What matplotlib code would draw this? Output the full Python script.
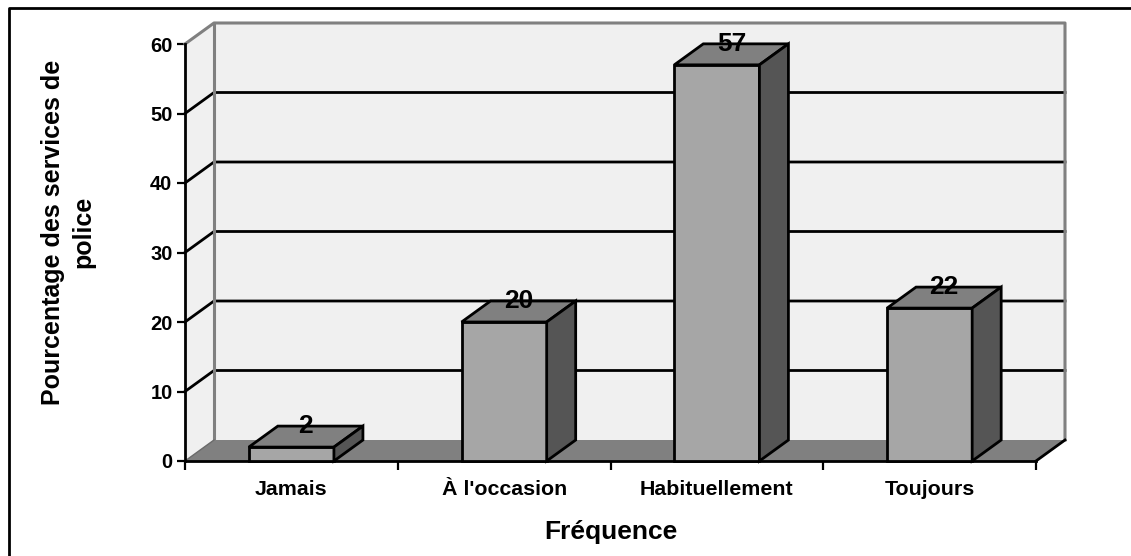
import matplotlib
matplotlib.use("Agg")
import matplotlib.pyplot as plt
from matplotlib.patches import Polygon
from matplotlib.lines import Line2D
import numpy as np

# Data
categories = ["Jamais", "À l'occasion", "Habituellement", "Toujours"]
values = [2, 20, 57, 22]
y_ticks = [0, 10, 20, 30, 40, 50, 60]
y_label = "Pourcentage des services de\npolice"
x_label = "Fréquence"

# Style
W, H, DPI = 1131, 556, 100
FONT = "Liberation Sans"
WALL = "#f0f0f0"
FLOOR = "#808080"
BAR_FRONT = "#a6a6a6"
BAR_TOP = "#808080"
BAR_SIDE = "#555555"
EDGE_GRAY = "#808080"
DEPTH_PX = (29, 21)     # oblique depth offset in pixels (right, up)
BAR_WIDTH = 0.4

plt.rcParams["font.family"] = [FONT, "DejaVu Sans"]
plt.rcParams["font.weight"] = "bold"

fig = plt.figure(figsize=(W / DPI, H / DPI), dpi=DPI)
fig.patch.set_facecolor("white")

# front plane of the chart in pixel bounds
left_px, right_px, bottom_px, top_px = 185, 1036, 461, 44
ax = fig.add_axes([left_px / W, 1 - bottom_px / H,
                   (right_px - left_px) / W, (bottom_px - top_px) / H])
n = len(categories)
ax.set_xlim(0, n)
ax.set_ylim(0, 60)
ax.patch.set_visible(False)

# depth offset expressed in data units
p0 = ax.transData.transform((0, 0))
dx, dy = ax.transData.inverted().transform(p0 + np.array(DEPTH_PX))

def poly(pts, fc, ec, lw, z):
    ax.add_patch(Polygon(pts, closed=True, facecolor=fc, edgecolor=ec,
                         linewidth=lw, zorder=z, clip_on=False,
                         joinstyle="miter"))

ymax = y_ticks[-1]
# back wall and left side wall
poly([(dx, dy), (n + dx, dy), (n + dx, ymax + dy), (dx, ymax + dy)], WALL, "none", 0, 1)
poly([(0, 0), (dx, dy), (dx, ymax + dy), (0, ymax)], WALL, "none", 0, 1)

# gridlines on side wall and back wall
for v in y_ticks[1:-1]:
    ax.add_line(Line2D([0, dx, n + dx], [v, v + dy, v + dy], color="black",
                       lw=2, zorder=2, clip_on=False))

# wall borders
ax.add_line(Line2D([0, dx, n + dx, n + dx], [ymax, ymax + dy, ymax + dy, dy],
                   color=EDGE_GRAY, lw=2.2, zorder=2, clip_on=False))
ax.add_line(Line2D([dx, dx], [dy, ymax + dy], color=EDGE_GRAY, lw=2.2,
                   zorder=2, clip_on=False))

# floor
poly([(0, 0), (n, 0), (n + dx, dy), (dx, dy)], FLOOR, "none", 0, 3)
ax.add_line(Line2D([0, dx], [0, dy], color="#6a6a6a", lw=1, zorder=3, clip_on=False))
ax.add_line(Line2D([n, n + dx], [0, dy], color="black", lw=2, zorder=3, clip_on=False))

# bars
for i, v in enumerate(values):
    c = i + 0.5
    x0, x1 = c - BAR_WIDTH / 2, c + BAR_WIDTH / 2
    poly([(x0, 0), (x1, 0), (x1, v), (x0, v)], BAR_FRONT, "black", 2, 5)
    poly([(x0, v), (x1, v), (x1 + dx, v + dy), (x0 + dx, v + dy)], BAR_TOP, "black", 2, 5)
    poly([(x1, 0), (x1 + dx, dy), (x1 + dx, v + dy), (x1, v)], BAR_SIDE, "black", 2, 5)
    ax.text(c + dx / 2, v + dy, str(v), ha="center", va="center",
            fontsize=19, fontweight="bold", zorder=6)

# axes lines and ticks
for s in ("top", "right"):
    ax.spines[s].set_visible(False)
for s in ("left", "bottom"):
    ax.spines[s].set_linewidth(2)
    ax.spines[s].set_zorder(4)

ax.set_yticks(y_ticks)
ax.set_yticklabels([str(t) for t in y_ticks])
ax.tick_params(axis="y", direction="out", length=6, width=1.6, pad=3,
               labelsize=14.5)
ax.set_xticks(np.arange(n + 1))
ax.set_xticklabels([])
ax.set_xticks(np.arange(n) + 0.5, minor=True)
ax.set_xticklabels(categories, minor=True)
ax.tick_params(axis="x", which="major", direction="out", length=6.5, width=1.6)
ax.tick_params(axis="x", which="minor", length=0, pad=14, labelsize=15.4)
for lab in ax.get_xticklabels(minor=True) + ax.get_yticklabels():
    lab.set_fontweight("bold")

# axis titles
fig.text(68 / W, 1 - 232 / H, y_label, rotation=90, ha="center", va="center",
         fontsize=18, fontweight="bold", multialignment="center",
         linespacing=1.3)
fig.text(611 / W, 1 - 532 / H, x_label, ha="center", va="center",
         fontsize=19, fontweight="bold")

# chart frame
fig.add_artist(Line2D([9 / W, 9 / W, 1], [0, 1 - 7.5 / H, 1 - 7.5 / H],
                      color="black", lw=2, transform=fig.transFigure))

fig.savefig("out.png", dpi=DPI, facecolor="white")
